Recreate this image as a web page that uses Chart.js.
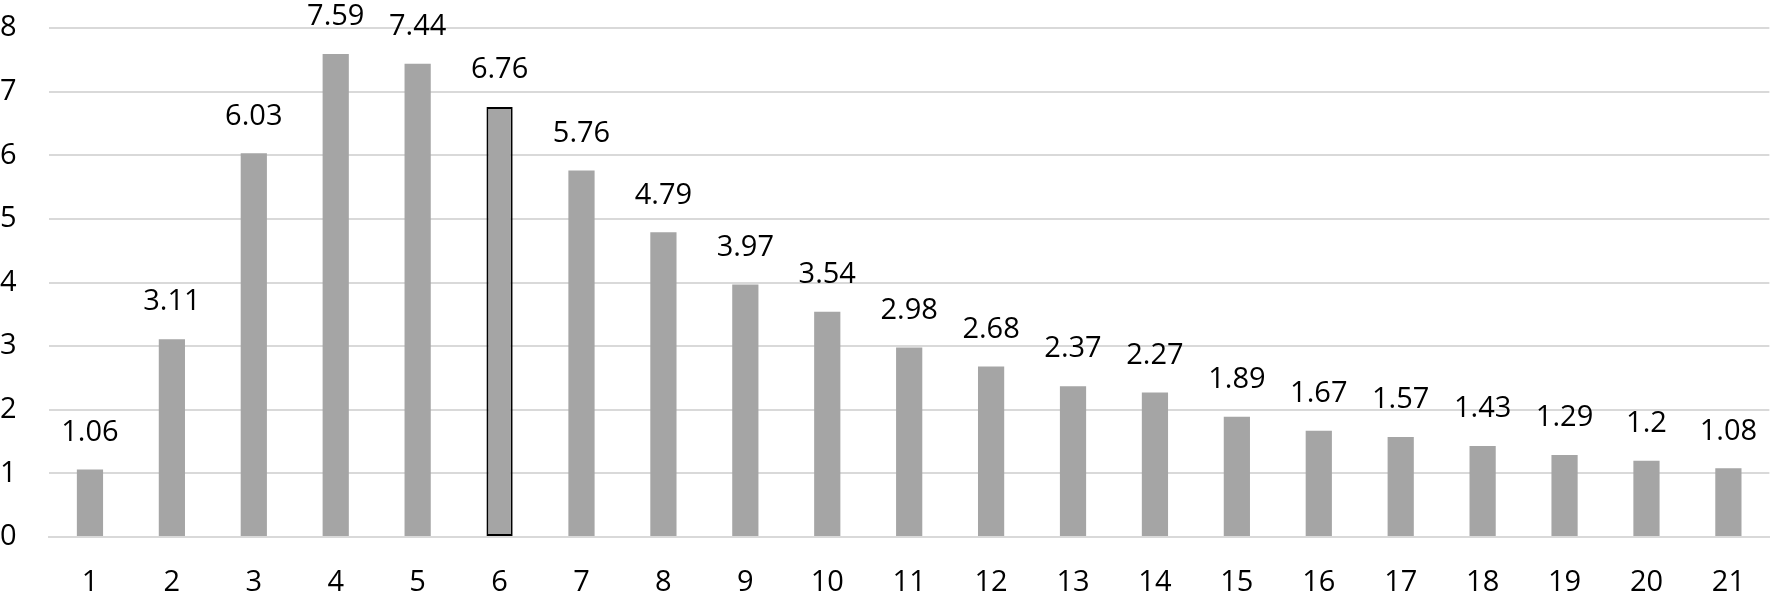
<!DOCTYPE html>
<html lang="en">
<head>
    <meta charset="UTF-8">
    <title>Bar chart</title>
    <script src="https://cdn.jsdelivr.net/npm/chart.js"></script>
    <style>
        html, body {
            margin: 0;
            padding: 0;
            background: #ffffff;
        }
        .chart-container {
            width: 1773px;
            height: 603px;
            position: relative;
        }
    </style>
</head>
<body>
    <div class="chart-container">
        <canvas id="barChart"></canvas>
    </div>

    <script>
        const categories = ['1', '2', '3', '4', '5', '6', '7', '8', '9', '10', '11', '12', '13', '14', '15', '16', '17', '18', '19', '20', '21'];
        const values = [1.06, 3.11, 6.03, 7.59, 7.44, 6.76, 5.76, 4.79, 3.97, 3.54, 2.98, 2.68, 2.37, 2.27, 1.89, 1.67, 1.57, 1.43, 1.29, 1.2, 1.08];
        const highlighted = '6'; // bar drawn with a black outline

        const fontFamily = "'Open Sans', 'Liberation Sans', sans-serif";
        const fontSize = 29;

        // draws the value above each bar
        const valueLabels = {
            id: 'valueLabels',
            afterDatasetsDraw(chart) {
                const ctx = chart.ctx;
                const meta = chart.getDatasetMeta(0);
                ctx.save();
                ctx.font = fontSize + 'px ' + fontFamily;
                ctx.fillStyle = '#000000';
                ctx.textAlign = 'center';
                ctx.textBaseline = 'middle';
                meta.data.forEach((bar, i) => {
                    ctx.fillText(String(values[i]), bar.x, bar.y - 37);
                });
                ctx.restore();
            }
        };

        const ctx = document.getElementById('barChart').getContext('2d');
        const chart = new Chart(ctx, {
            type: 'bar',
            data: {
                labels: categories,
                datasets: [{
                    data: values,
                    backgroundColor: '#a5a5a5',
                    borderColor: categories.map(c => c === highlighted ? '#000000' : '#a5a5a5'),
                    borderWidth: categories.map(c => c === highlighted ? 2 : 0),
                    borderSkipped: false,
                    barPercentage: 0.32,
                    categoryPercentage: 1.0
                }]
            },
            options: {
                responsive: true,
                maintainAspectRatio: false,
                animation: false,
                layout: {
                    padding: { top: 28, right: 1, left: 0, bottom: 0 }
                },
                scales: {
                    x: {
                        grid: { display: false, drawTicks: false },
                        border: { display: true, color: '#d9d9d9', width: 2 },
                        ticks: {
                            color: '#000000',
                            padding: 28,
                            font: { family: fontFamily, size: fontSize }
                        },
                        afterFit(scale) { scale.height = 66; }
                    },
                    y: {
                        min: 0,
                        max: 8,
                        grid: { color: '#d9d9d9', lineWidth: 2, drawTicks: false },
                        border: { display: false },
                        ticks: {
                            stepSize: 1,
                            color: '#000000',
                            padding: 0,
                            crossAlign: 'far',
                            font: { family: fontFamily, size: fontSize }
                        },
                        afterFit(scale) { scale.width = 49; }
                    }
                },
                plugins: {
                    legend: { display: false },
                    tooltip: { enabled: false }
                }
            },
            plugins: [valueLabels]
        });
    </script>
</body>
</html>
